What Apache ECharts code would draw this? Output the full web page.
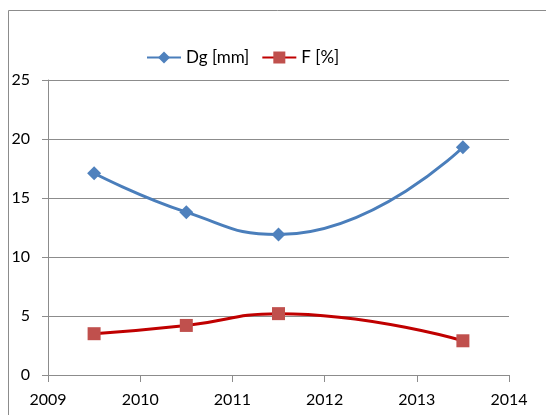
<!DOCTYPE html>
<html>
<head>
<meta charset="utf-8">
<script src="https://cdn.jsdelivr.net/npm/echarts@6/dist/echarts.min.js"></script>
<style>
  html, body { margin: 0; padding: 0; background: #fff; }
  #chart { width: 546px; height: 415px; }
</style>
</head>
<body>
<div id="chart"></div>
<script>
var years = [2009.5, 2010.5, 2011.5, 2013.5];
var dgValues = [17.1, 13.8, 11.9, 19.3];
var fValues = [3.5, 4.2, 5.2, 2.9];
var seriesNames = ['Dg [mm]', 'F [%]'];

var font = 'Lato, "Open Sans", sans-serif';

var chart = echarts.init(document.getElementById('chart'));

var option = {
    animation: false,
    backgroundColor: '#fff',
    graphic: [
        {
            type: 'rect',
            shape: { x: 8.5, y: 10.5, width: 560, height: 420 },
            style: { fill: 'none', stroke: '#8c8c8c', lineWidth: 1 },
            silent: true
        }
    ],
    legend: {
        data: seriesNames,
        top: 44,
        left: 141,
        itemWidth: 34,
        itemHeight: 15,
        itemGap: 12,
        textStyle: { fontFamily: font, fontSize: 17, color: '#000' }
    },
    grid: {
        left: 48,
        right: 37,
        top: 80,
        bottom: 40
    },
    xAxis: {
        type: 'value',
        min: 2009,
        max: 2014,
        interval: 1,
        axisLine: { show: false },
        axisTick: { show: true, length: 7, lineStyle: { color: '#8c8c8c' } },
        splitLine: { show: false },
        axisLabel: {
            margin: 17,
            fontFamily: font,
            fontSize: 16,
            color: '#000',
            formatter: function (v) { return String(v); }
        }
    },
    yAxis: {
        type: 'value',
        min: 0,
        max: 25,
        interval: 5,
        axisLine: { show: true, lineStyle: { color: '#8c8c8c' } },
        axisTick: { show: true, length: 6, lineStyle: { color: '#8c8c8c' } },
        splitLine: { show: true, lineStyle: { color: '#8c8c8c' } },
        axisLabel: {
            margin: 18,
            fontFamily: font,
            fontSize: 16,
            color: '#000'
        }
    },
    series: [
        {
            name: seriesNames[0],
            type: 'line',
            smooth: 0.5,
            data: years.map(function (x, i) { return [x, dgValues[i]]; }),
            symbol: 'diamond',
            symbolSize: 14,
            lineStyle: { color: '#4A7EBB', width: 3 },
            itemStyle: { color: '#4F81BD' }
        },
        {
            name: seriesNames[1],
            type: 'line',
            smooth: 0.5,
            data: years.map(function (x, i) { return [x, fValues[i]]; }),
            symbol: 'rect',
            symbolSize: 13,
            lineStyle: { color: '#C00000', width: 3 },
            itemStyle: { color: '#C0504D' }
        }
    ]
};

chart.setOption(option);
</script>
</body>
</html>
